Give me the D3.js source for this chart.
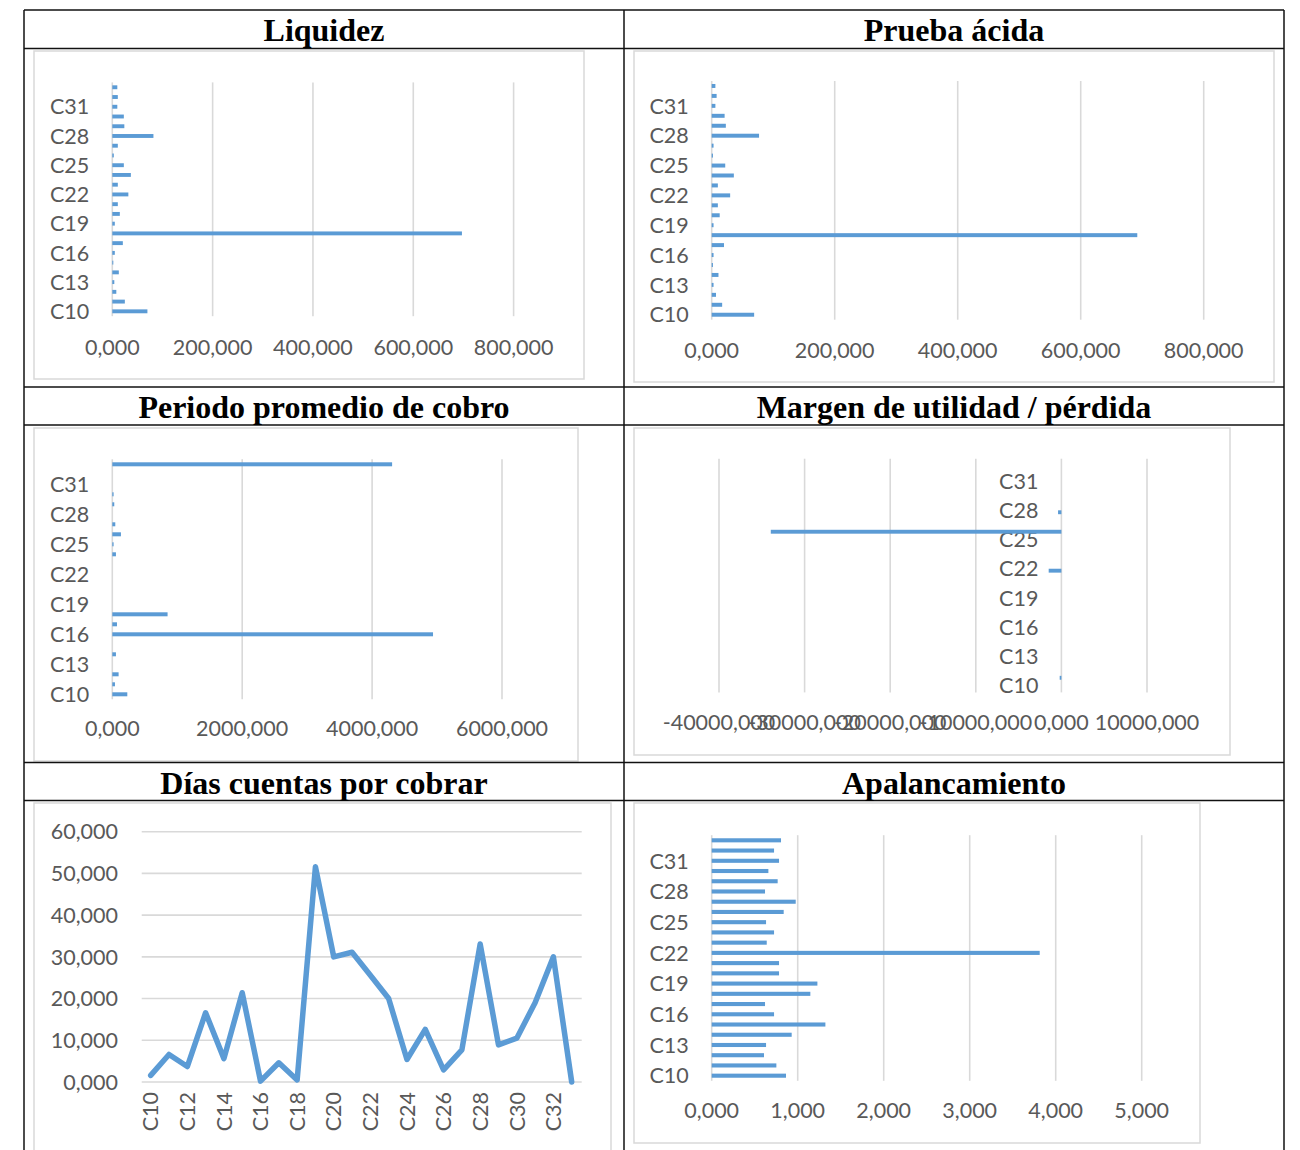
<!DOCTYPE html>
<html>
<head>
<meta charset="utf-8">
<script src="https://cdn.jsdelivr.net/npm/d3@7"></script>
<style>
  html, body { margin: 0; padding: 0; background: #fff; }
  svg { display: block; }
  .tick-label { font-family: Lato, "Open Sans", sans-serif; font-size: 21.5px; fill: #595959; }
  .title { font-family: "Liberation Serif", "Times New Roman", serif; font-weight: bold; font-size: 32px; fill: #000; }
</style>
</head>
<body>
<script>
// Companies C10 … C33
const categories = d3.range(10, 34).map(i => "C" + i);

// Ratio values per company (C10 → C33)
const liquidez = [70, 25, 8, 4, 13, 2, 5, 21, 697, 5, 15, 11, 32, 11, 37, 23, 3, 11, 82, 24, 23, 10, 11, 10];
const pruebaAcida = [69, 17, 7, 3, 11, 2, 3, 20, 692, 3, 13, 10, 30, 10, 36, 22, 2, 3, 77, 23, 21, 6, 8, 6];
const periodoCobro = [231, 41, 97, 0, 56, 0, 4938, 72, 851, 0, 0, 0, 0, 0, 56, 20, 133, 46, 0, 30, 20, 0, 0, 4308];
const margenUtilidad = [0, -200, 0, 0, 0, 0, 0, 0, 0, 0, 0, 0, -1485, 0, 0, 0, -33950, 0, -390, 0, 0, 0, 0, 0];
const diasCobrar = [1.6, 6.6, 3.7, 16.6, 5.6, 21.4, 0.2, 4.6, 0.5, 51.6, 30.0, 31.1, 25.6, 20.0, 5.4, 12.6, 2.9, 7.7, 33.1, 8.9, 10.5, 19.0, 30.0, 0];
const apalancamiento = [0.864, 0.752, 0.608, 0.632, 0.930, 1.322, 0.725, 0.620, 1.147, 1.229, 0.783, 0.783, 3.814, 0.640, 0.725, 0.632, 0.837, 0.977, 0.620, 0.767, 0.659, 0.783, 0.725, 0.806];

// Tick values
const ticksLiquidez = [0, 200, 400, 600, 800];
const ticksPrueba = [0, 200, 400, 600, 800];
const ticksPeriodo = [0, 2000, 4000, 6000];
const ticksMargen = [-40000, -30000, -20000, -10000, 0, 10000];
const ticksDias = [0, 10, 20, 30, 40, 50, 60];
const ticksApal = [0, 1, 2, 3, 4, 5];

// Panel titles
const titles = ["Liquidez", "Prueba ácida", "Periodo promedio de cobro",
                "Margen de utilidad / pérdida", "Días cuentas por cobrar", "Apalancamiento"];

const BLUE = "#5B9BD5", GRID = "#D9D9D9";
const loc = d3.formatLocale({decimal: ",", thousands: ".", grouping: [3], currency: ["", ""], minus: "-"});
const fmt = loc.format(".3f");

const svg = d3.select("body").append("svg").attr("width", 1300).attr("height", 1150);

// Chart-area frames
const frames = [
  [34, 51, 584, 379], [634, 51, 1274, 382],
  [34, 428, 578, 761], [634, 428, 1230, 755],
  [34, 803, 611, 1160], [634, 803, 1200, 1143]
];
svg.selectAll("rect.frame").data(frames).join("rect")
  .attr("class", "frame")
  .attr("x", d => d[0]).attr("y", d => d[1])
  .attr("width", d => d[2] - d[0]).attr("height", d => d[3] - d[1])
  .attr("fill", "#fff").attr("stroke", GRID).attr("stroke-width", 1.5);

// Horizontal bar chart helper
function barChart(cfg) {
  const g = svg.append("g");
  const x = d3.scaleLinear().domain(cfg.domain).range(cfg.xRange);
  const y = d3.scaleBand().domain(categories.slice().reverse())
    .range(cfg.yRange).paddingInner(0.6).paddingOuter(0.3);
  const [y0, y1] = cfg.yRange;

  g.selectAll("line.grid").data(cfg.ticks).join("line")
    .attr("x1", d => x(d)).attr("x2", d => x(d))
    .attr("y1", y0).attr("y2", y1)
    .attr("stroke", GRID).attr("stroke-width", 1.6);

  g.selectAll("text.xt").data(cfg.ticks).join("text")
    .attr("class", "tick-label")
    .attr("x", d => x(d)).attr("y", y1 + cfg.xLabelDy)
    .attr("text-anchor", "middle").text(d => fmt(d));

  const labelled = categories.filter((c, i) => i % 3 === 0);
  g.selectAll("text.yt").data(labelled).join("text")
    .attr("class", "tick-label")
    .attr("x", x(0) - 23).attr("y", d => y(d) + y.bandwidth() / 2 + (cfg.yLabelDy || 0))
    .attr("dy", "0.36em")
    .attr("text-anchor", "end").text(d => d);

  g.selectAll("rect.bar").data(cfg.values).join("rect")
    .attr("x", d => Math.min(x(0), x(d)))
    .attr("width", d => Math.abs(x(d) - x(0)))
    .attr("y", (d, i) => y(categories[i]))
    .attr("height", y.bandwidth())
    .attr("fill", BLUE);
}

barChart({values: liquidez, domain: [0, 800], ticks: ticksLiquidez,
  xRange: [112.3, 513.6], yRange: [82.4, 316.2], xLabelDy: 39});
barChart({values: pruebaAcida, domain: [0, 800], ticks: ticksPrueba,
  xRange: [711.7, 1203.7], yRange: [81, 319.7], xLabelDy: 38});
barChart({values: periodoCobro, domain: [0, 6000], ticks: ticksPeriodo,
  xRange: [112.3, 502], yRange: [459.3, 699.3], xLabelDy: 37});
barChart({values: margenUtilidad, domain: [-40000, 10000], ticks: ticksMargen,
  xRange: [719, 1147], yRange: [458.7, 692.4], xLabelDy: 38, yLabelDy: -2});
barChart({values: apalancamiento, domain: [0, 5], ticks: ticksApal,
  xRange: [711.7, 1141.7], yRange: [835.2, 1080.8], xLabelDy: 37});

// Line chart: Días cuentas por cobrar
(function () {
  const g = svg.append("g");
  const x = d3.scalePoint().domain(categories).range([150.7, 571.7]);
  const y = d3.scaleLinear().domain([0, 60]).range([1082, 831.7]);
  g.selectAll("line.grid").data(ticksDias).join("line")
    .attr("x1", 141.7).attr("x2", 581.7)
    .attr("y1", d => y(d)).attr("y2", d => y(d))
    .attr("stroke", GRID).attr("stroke-width", 1.6);
  g.selectAll("text.yt").data(ticksDias).join("text")
    .attr("class", "tick-label")
    .attr("x", 118).attr("y", d => y(d)).attr("dy", "0.36em")
    .attr("text-anchor", "end").text(d => fmt(d));
  const labelled = categories.filter((c, i) => i % 2 === 0);
  g.selectAll("text.xt").data(labelled).join("text")
    .attr("class", "tick-label")
    .attr("transform", d => `translate(${x(d)},1092) rotate(-90)`)
    .attr("dy", "0.36em").attr("text-anchor", "end").text(d => d);
  g.append("path")
    .datum(diasCobrar)
    .attr("d", d3.line().x((d, i) => x(categories[i])).y(d => y(d)))
    .attr("fill", "none").attr("stroke", BLUE).attr("stroke-width", 5.5)
    .attr("stroke-linejoin", "round").attr("stroke-linecap", "round");
})();

// Table grid with titles
const colX = [24, 624, 1284];
const rowY = [10, 48.5, 387, 425, 762.5, 800.5];
const tableG = svg.append("g");
rowY.forEach(yy => tableG.append("line")
  .attr("x1", colX[0]).attr("x2", colX[2]).attr("y1", yy).attr("y2", yy)
  .attr("stroke", "#111").attr("stroke-width", 1.5));
colX.forEach(xx => tableG.append("line")
  .attr("x1", xx).attr("x2", xx).attr("y1", 10).attr("y2", 1150)
  .attr("stroke", "#111").attr("stroke-width", 1.5));
const titleBase = [41, 418, 794];
titles.forEach((t, i) => {
  const col = i % 2, row = Math.floor(i / 2);
  tableG.append("text").attr("class", "title")
    .attr("x", (colX[col] + colX[col + 1]) / 2)
    .attr("y", titleBase[row])
    .attr("text-anchor", "middle").text(t);
});
</script>
</body>
</html>
